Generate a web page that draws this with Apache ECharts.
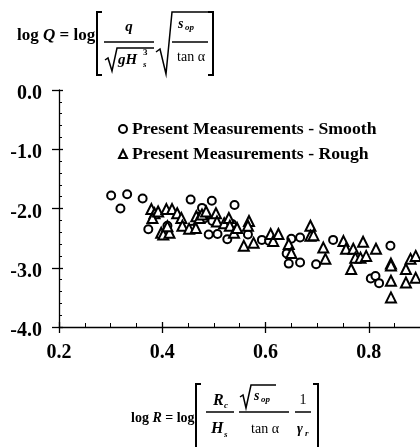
<!DOCTYPE html>
<html>
<head>
<meta charset="utf-8">
<script src="https://cdn.jsdelivr.net/npm/echarts@6/dist/echarts.min.js"></script>
<style>html,body{margin:0;padding:0;background:#fff;}#c{width:420px;height:447px;}</style>
</head>
<body>
<div id="c"></div>
<script>
// ---- data ----
const smoothX = [0.301,0.319,0.332,0.362,0.373,0.410,0.455,0.458,0.477,0.496,0.471,0.481,0.497,0.540,0.535,0.490,0.507,0.526,0.566,0.593,0.607,0.650,0.667,0.641,0.645,0.667,0.698,0.731,0.842,0.804,0.813,0.820];
const smoothY = [-1.78,-2.00,-1.76,-1.83,-2.35,-2.29,-1.85,-2.34,-1.99,-1.87,-2.14,-2.17,-2.21,-1.94,-2.26,-2.44,-2.43,-2.52,-2.44,-2.53,-2.55,-2.51,-2.49,-2.76,-2.93,-2.91,-2.94,-2.53,-2.63,-3.18,-3.14,-3.26];
const roughX = [0.379,0.385,0.381,0.392,0.398,0.402,0.408,0.414,0.410,0.419,0.429,0.437,0.439,0.452,0.466,0.465,0.472,0.477,0.485,0.504,0.506,0.520,0.529,0.531,0.539,0.545,0.568,0.566,0.558,0.577,0.610,0.615,0.625,0.645,0.650,0.687,0.687,0.693,0.712,0.716,0.751,0.756,0.770,0.789,0.774,0.784,0.795,0.766,0.814,0.843,0.843,0.843,0.843,0.872,0.872,0.881,0.891,0.891];
const roughY = [-2.01,-2.08,-2.16,-2.05,-2.41,-2.44,-2.01,-2.41,-2.30,-2.01,-2.08,-2.16,-2.29,-2.34,-2.13,-2.33,-2.16,-2.10,-2.05,-2.08,-2.22,-2.25,-2.16,-2.29,-2.41,-2.33,-2.21,-2.29,-2.63,-2.58,-2.43,-2.55,-2.43,-2.60,-2.75,-2.29,-2.46,-2.45,-2.66,-2.85,-2.55,-2.68,-2.68,-2.56,-2.83,-2.83,-2.80,-3.02,-2.68,-2.93,-2.96,-3.22,-3.50,-3.02,-3.25,-2.85,-2.80,-3.17];
const seriesNames = ['Present Measurements - Smooth','Present Measurements - Rough'];
const xRange = [0.2, 1.0], xStep = 0.2;
const yRange = [-4, 0], yStep = 1;

const F = '"Liberation Serif", "Times New Roman", serif';
const chart = echarts.init(document.getElementById('c'), null, {renderer:'canvas'});

function zip(a,b){ return a.map((v,i)=>[v,b[i]]); }
function txt(x,y,t,size,opts){
  opts = opts||{};
  return {type:'text', x:x, y:y, z:10, style:{text:t, font:(opts.italic?'italic ':'')+(opts.weight||'bold')+' '+size+'px '+F, fill:'#000', align:opts.align||'left', verticalAlign:'middle'}};
}
function rich(x,y,t,size){
  return {type:'text', x:x, y:y, z:10, style:{text:t, fill:'#000', align:'left', verticalAlign:'middle',
    font:'bold '+size+'px '+F,
    rich:{n:{fontFamily:F, fontWeight:'bold', fontSize:size, fill:'#000'}, i:{fontFamily:F, fontWeight:'bold', fontStyle:'italic', fontSize:size, fill:'#000'}}}};
}
function pl(points,w){ return {type:'polyline', z:10, shape:{points:points}, style:{stroke:'#000', lineWidth:w||1.5, fill:null}}; }

const graphics = [
  // top formula: log Q = log[ q / sqrt(gH_s^3) * sqrt(s_op / tan a) ]
  rich(17,36,'{n|log }{i|Q}{n| = log}',17),
  pl([[102,12],[97,12],[97,75],[102,75]],2),
  txt(129,27,'q',15,{italic:true,align:'center'}),
  pl([[104,42],[154,42]],1.5),
  pl([[105,60],[108,58],[112,71],[117,48],[154,48]],1.5),
  txt(118,60,'gH',15,{italic:true}), txt(143,53,'3',9), txt(143,65,'s',9,{italic:true}),
  pl([[156,52],[160,49],[166,74],[172,12],[210,12]],1.5),
  txt(178,24,'s',14,{italic:true}), txt(185,28,'op',9,{italic:true}),
  pl([[172,42],[208,42]],1.5),
  txt(191,57,'tan α',14,{align:'center',weight:'normal'}),
  pl([[208,12],[213,12],[213,75],[208,75]],2),
  // bottom formula: log R = log[ R_c/H_s * sqrt(s_op)/tan a * 1/gamma_r ]
  rich(131,418,'{n|log }{i|R}{n| = log}',14),
  pl([[201,384],[196,384],[196,452],[201,452]],2),
  txt(213,401,'R',16,{italic:true}), txt(224,406,'c',9,{italic:true}),
  pl([[206,412],[234,412]],1.5),
  txt(211,429,'H',16,{italic:true}), txt(224,435,'s',9,{italic:true}),
  pl([[240,397],[243,395],[246,408],[251,385],[276,385]],1.5),
  txt(254,396,'s',14,{italic:true}), txt(261,400,'op',9,{italic:true}),
  pl([[239,412],[289,412]],1.5),
  txt(265,429,'tan α',14,{align:'center',weight:'normal'}),
  txt(303,400,'1',14,{align:'center',weight:'normal'}),
  pl([[295,412],[311,412]],1.5),
  txt(300,429,'γ',14,{italic:true,align:'center'}), txt(305,434,'r',9,{italic:true}),
  pl([[313,384],[318,384],[318,452],[313,452]],2)
];

const axisLineStyle = {color:'#000', width:1.3};
const labelStyle = {color:'#000', fontFamily:F, fontWeight:'bold', fontSize:20};

chart.setOption({
  backgroundColor:'#fff',
  animation:false,
  grid:{left:59, top:90, right:-52, bottom:120, containLabel:false, outerBoundsMode:'none'},
  legend:{
    orient:'vertical', left:113, top:115, itemGap:7, itemWidth:8, itemHeight:8,
    textStyle:{color:'#000', fontFamily:F, fontWeight:'bold', fontSize:17.7},
    data:[{name:seriesNames[0], icon:'circle'},{name:seriesNames[1], icon:'triangle'}]
  },
  xAxis:[
    {type:'value', min:xRange[0], max:xRange[1], interval:xStep, position:'bottom',
     axisLine:{show:true, onZero:false, lineStyle:axisLineStyle},
     axisTick:{show:true, inside:false, length:6, lineStyle:axisLineStyle},
     axisLabel:{...labelStyle, margin:16, showMaxLabel:false, formatter:v=>v.toFixed(1)},
     splitLine:{show:false}},
    {type:'value', min:xRange[0], max:xRange[1], interval:xStep, position:'bottom',
     axisLine:{show:false, onZero:false},
     axisTick:{show:true, inside:true, length:5, lineStyle:axisLineStyle},
     minorTick:{show:true, splitNumber:4, length:4, lineStyle:{color:'#000', width:1}},
     axisLabel:{show:false}, splitLine:{show:false}}
  ],
  yAxis:[
    {type:'value', min:yRange[0], max:yRange[1], interval:yStep, position:'left',
     axisLine:{show:true, onZero:false, lineStyle:axisLineStyle},
     axisTick:{show:true, inside:false, length:7, lineStyle:axisLineStyle},
     axisLabel:{...labelStyle, margin:17, verticalAlign:'top', lineHeight:8, formatter:v=>v.toFixed(1)},
     splitLine:{show:false}},
    {type:'value', min:yRange[0], max:yRange[1], interval:yStep, position:'left',
     axisLine:{show:false, onZero:false},
     axisTick:{show:true, inside:true, length:4, lineStyle:axisLineStyle},
     minorTick:{show:true, splitNumber:5, length:3, lineStyle:{color:'#000', width:1}},
     axisLabel:{show:false}, splitLine:{show:false}}
  ],
  series:[
    {name:seriesNames[0], type:'scatter', symbol:'circle', symbolSize:8,
     itemStyle:{color:'#fff', borderColor:'#000', borderWidth:2, opacity:1},
     data:zip(smoothX, smoothY)},
    {name:seriesNames[1], type:'scatter', symbol:'triangle', symbolSize:10,
     itemStyle:{color:'#fff', borderColor:'#000', borderWidth:2, opacity:1},
     data:zip(roughX, roughY)}
  ],
  graphic:graphics
});
</script>
</body>
</html>
